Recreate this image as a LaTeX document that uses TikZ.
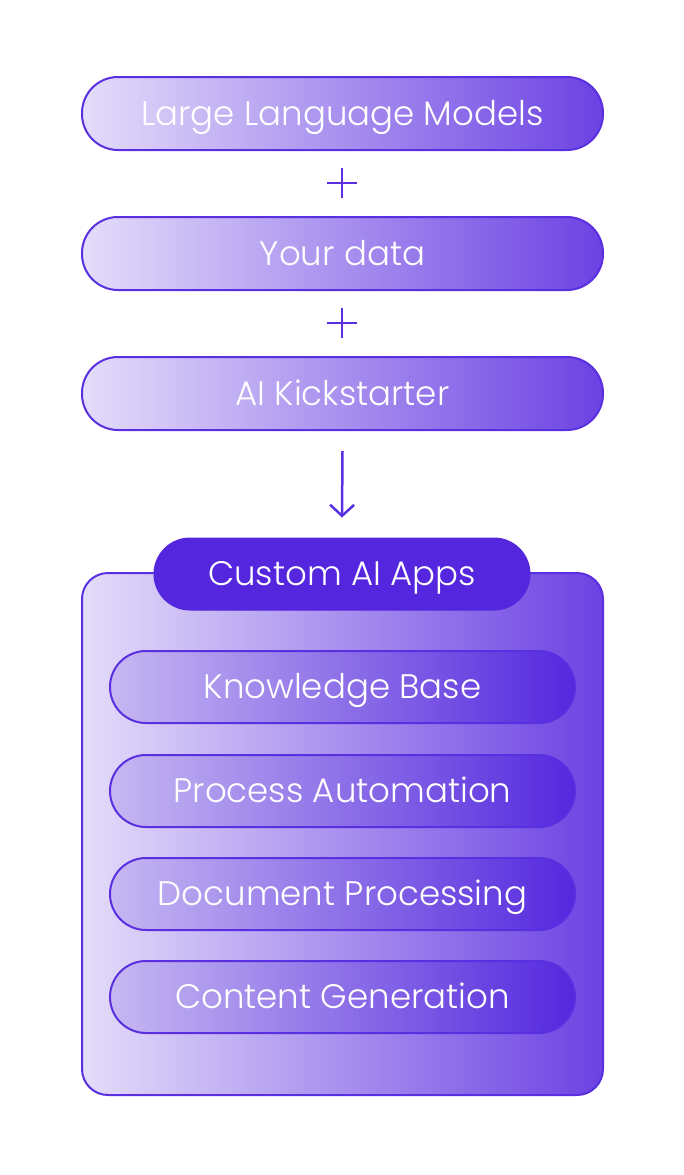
\documentclass[tikz,border=0pt]{standalone}
\usepackage{fontspec}
\setmainfont{Poppins Light}
\usetikzlibrary{arrows.meta}
\definecolor{lightend}{HTML}{E4DDFA}
\definecolor{darkend}{HTML}{6C42E3}
\definecolor{innerleft}{HTML}{C6B8F2}
\definecolor{innerright}{HTML}{5428DE}
\definecolor{tabfill}{HTML}{5427DF}
\definecolor{edge}{HTML}{5A2FE0}
\tikzset{
  pill/.style={draw=edge, line width=2pt, left color=lightend, right color=darkend,
    minimum width=521pt, minimum height=73pt, rounded corners=36pt,
    text=white, font=\fontsize{34}{37}\selectfont, inner sep=0pt,
    text height=25pt, text depth=2pt},
  innerpill/.style={pill, left color=innerleft, right color=innerright,
    minimum width=465pt, minimum height=72pt},
  container/.style={draw=edge, line width=2pt, left color=lightend, right color=darkend,
    minimum width=521pt, minimum height=522pt, rounded corners=26pt, inner sep=0pt},
  tabbox/.style={draw=tabfill, line width=1pt, fill=tabfill, text=white,
    minimum width=376pt, minimum height=72pt, rounded corners=36pt,
    font=\fontsize{34}{37}\selectfont, inner sep=0pt, text height=24pt, text depth=2pt},
  plusline/.style={draw=edge, line width=2.5pt},
  arr/.style={draw=edge, line width=2.5pt, -{Straight Barb[length=11pt,width=24pt,line width=2.5pt]}}
}
\begin{document}
\begin{tikzpicture}[x=1pt,y=-1pt]
\useasboundingbox (0,0) rectangle (684,1175);
\node[pill] (llm) at (342.5,113.5) {Large Language Models};
\node[pill] (data) at (342.5,253.5) {Your data};
\node[pill] (kick) at (342.5,393.5) {AI Kickstarter};
\coordinate (p1) at (342,183);
\coordinate (p2) at (342,323);
\draw[plusline] ([xshift=-15pt]p1) -- ([xshift=15pt]p1) ([yshift=-15pt]p1) -- ([yshift=15pt]p1);
\draw[plusline] ([xshift=-15pt]p2) -- ([xshift=15pt]p2) ([yshift=-15pt]p2) -- ([yshift=15pt]p2);
\node[container] (apps) at (342.5,834) {};
\node[tabbox] (tab) at (342,574) {Custom AI Apps};
\draw[arr] ([yshift=-20pt]kick.south) -- ([yshift=20pt]tab.north);
\node[innerpill] (kb) at (342.5,687) {Knowledge Base};
\node[innerpill] (pa) at (342.5,791) {Process Automation};
\node[innerpill] (dp) at (342.5,894) {Document Processing};
\node[innerpill] (cg) at (342.5,997) {Content Generation};
\end{tikzpicture}
\end{document}
